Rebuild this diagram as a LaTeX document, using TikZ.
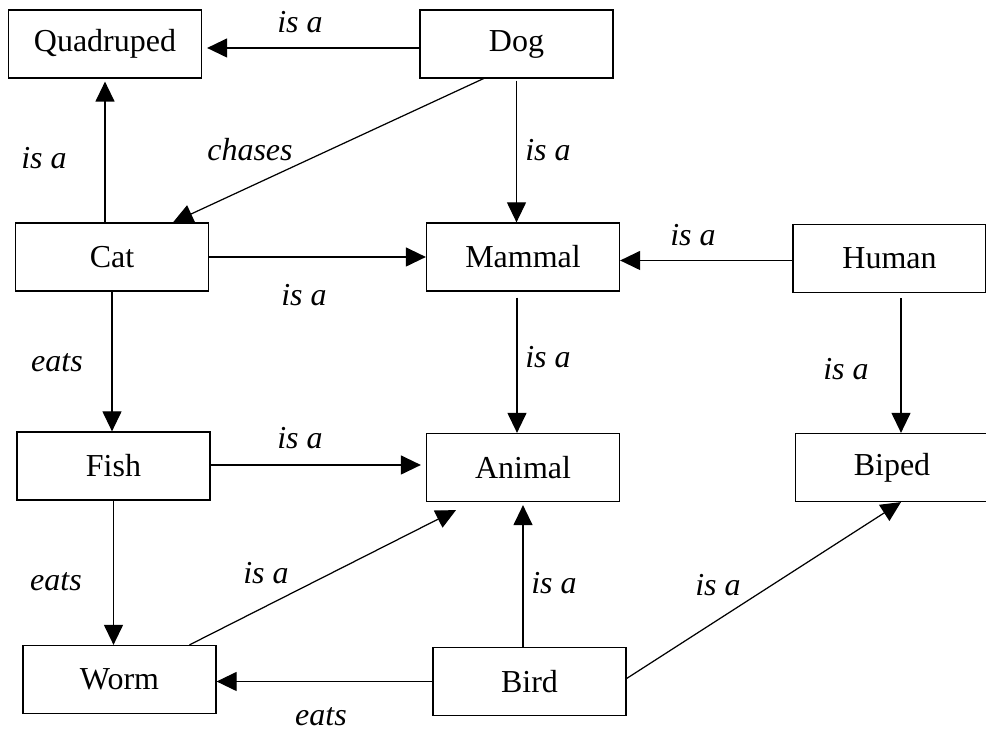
\documentclass[tikz,border=0pt]{standalone}
\usepackage{fontspec}
\setmainfont{Liberation Serif}
\usetikzlibrary{arrows.meta,positioning}

\begin{document}
\begin{tikzpicture}[font=\fontsize{18.2}{22}\selectfont, >={Triangle[length=4mm,width=3.8mm]}, line width=0.7pt,
  concept/.style={draw,minimum width=3.86cm,minimum height=1.36cm,inner sep=0pt},
  rel/.style={font=\fontsize{18.2}{22}\selectfont\itshape,inner sep=1pt}]
  \useasboundingbox (0,0) rectangle (19.72,14.62);
  % concepts
  \node[concept] (quad) at (2.10,13.74) {Quadruped};
  \node[concept] (dog) at (10.33,13.74) {Dog};
  \node[concept] (cat) at (2.24,9.48) {Cat};
  \node[concept] (mammal) at (10.46,9.48) {Mammal};
  \node[concept] (human) at (17.79,9.45) {Human};
  \node[concept] (fish) at (2.27,5.30) {Fish};
  \node[concept] (animal) at (10.46,5.27) {Animal};
  \node[concept] (biped) at (17.84,5.27) {Biped};
  \node[concept] (worm) at (2.39,1.03) {Worm};
  \node[concept] (bird) at (10.59,0.99) {Bird};
  % relations
  \draw[->,shorten >=0.1cm] ([yshift=-0.08cm]dog.west) -- ([yshift=-0.08cm]quad.east);
  \draw[->,shorten >=0.06cm] (cat.north -| quad.south) -- (quad.south);
  \draw[->] ([xshift=-0.66cm]dog.south) -- ([xshift=1.22cm]cat.north);
  \draw[->,shorten <=0.04cm] (dog.south) -- (dog.south |- mammal.north);
  \draw[->] (cat.east) -- (mammal.west);
  \draw[->] ([yshift=-0.04cm]human.west) -- ([yshift=-0.04cm]human.west -| mammal.east);
  \draw[->,shorten <=0.12cm] ([xshift=-0.12cm]mammal.south) -- ([xshift=-0.12cm]animal.north);
  \draw[->,shorten <=0.1cm] ([xshift=0.23cm]human.south) -- ([xshift=0.23cm]human.south |- biped.north);
  \draw[->] (cat.south) -- (cat.south |- fish.north);
  \draw[->,shorten >=0.1cm] ([yshift=0.02cm]fish.east) -- ([yshift=0.02cm]fish.east -| animal.west);
  \draw[->] (fish.south) -- (fish.south |- worm.north);
  \draw[->] ([xshift=1.4cm]worm.north) -- ([xshift=-1.34cm,yshift=-0.16cm]animal.south);
  \draw[->,shorten >=0.06cm] (bird.north -| animal.south) -- (animal.south);
  \draw[->] ([yshift=0.06cm]bird.east) -- ([xshift=0.18cm]biped.south);
  \draw[->] (bird.west) -- (bird.west -| worm.east);
  % labels
  \node[rel] (l1) at (6.00,14.18) {is a};
  \node[rel] (l2) at (0.88,11.46) {is a};
  \node[rel] (l3) at (5.00,11.62) {chases};
  \node[rel] (l4) at (10.96,11.62) {is a};
  \node[rel] (l5) at (6.08,8.72) {is a};
  \node[rel] (l6) at (13.86,9.92) {is a};
  \node[rel] (l7) at (10.96,7.48) {is a};
  \node[rel] (l8) at (16.92,7.24) {is a};
  \node[rel] (l9) at (1.14,7.36) {eats};
  \node[rel] (l10) at (6.00,5.86) {is a};
  \node[rel] (l11) at (1.12,2.98) {eats};
  \node[rel] (l12) at (5.32,3.16) {is a};
  \node[rel] (l13) at (11.08,2.96) {is a};
  \node[rel] (l14) at (14.36,2.92) {is a};
  \node[rel] (l15) at (6.42,0.29) {eats};
\end{tikzpicture}
\end{document}
